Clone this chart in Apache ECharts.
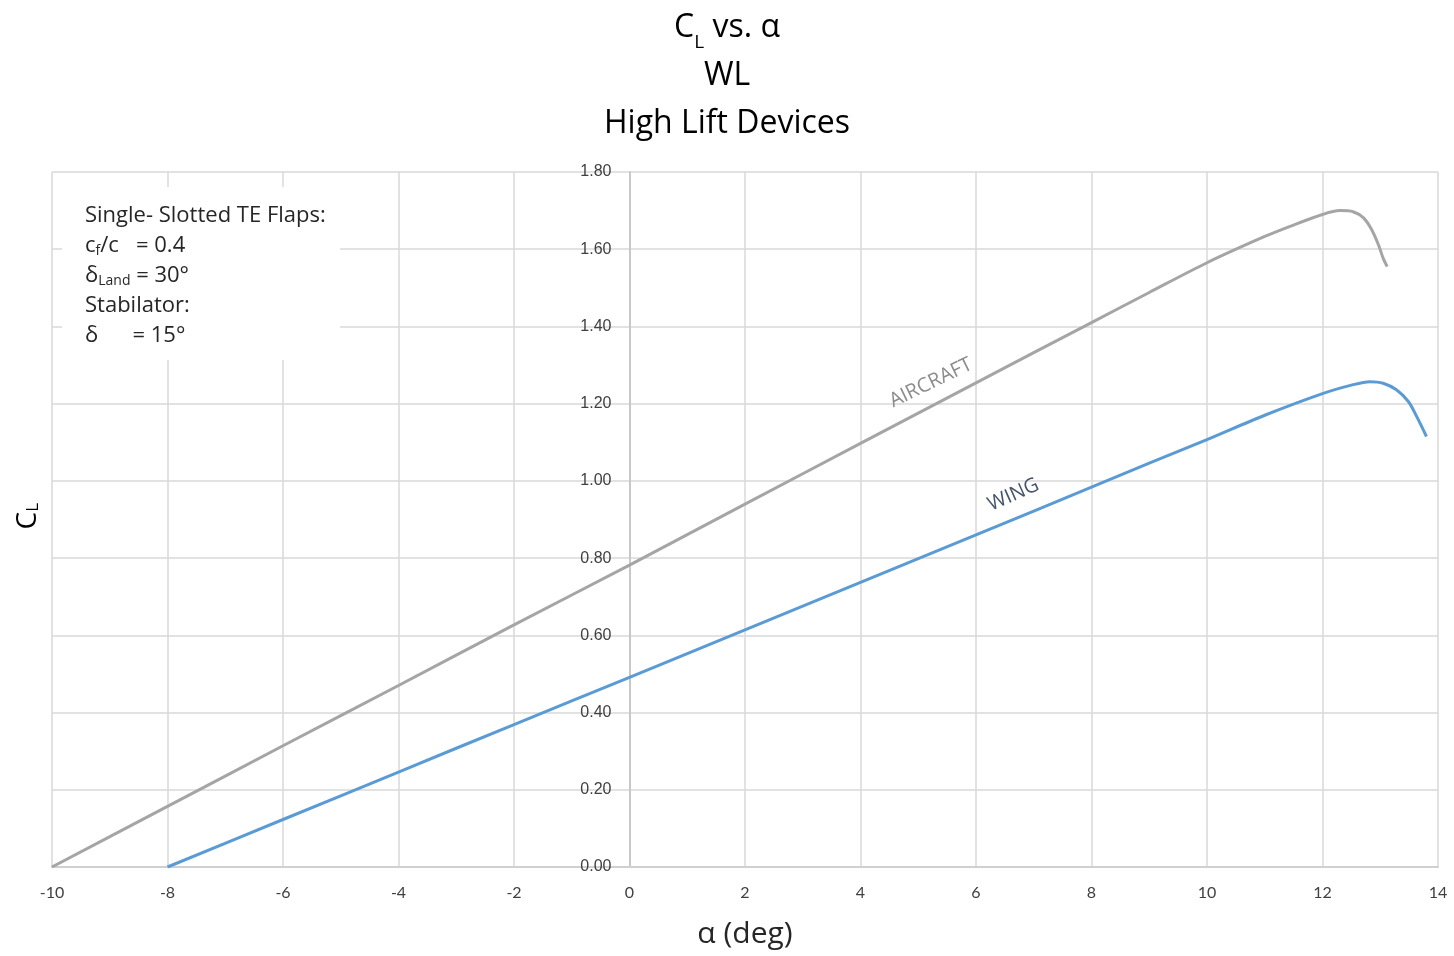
<!DOCTYPE html>
<html>
<head>
<meta charset="utf-8">
<script src="https://cdn.jsdelivr.net/npm/echarts@6/dist/echarts.min.js"></script>
<style>
  html, body { margin: 0; padding: 0; background: #fff; }
  #main { width: 1454px; height: 956px; }
</style>
</head>
<body>
<div id="main"></div>
<script>
// angle of attack (deg) / lift coefficient
const aircraftAlpha = [-10, -8, -6, -4, -2, 0, 2, 4, 6, 8, 9, 10, 11, 11.45, 12.0, 12.3, 12.53, 12.71, 12.85, 12.97, 13.05, 13.12];
const aircraftCL = [0, 0.157, 0.314, 0.47, 0.627, 0.782, 0.94, 1.097, 1.254, 1.41, 1.488, 1.565, 1.633, 1.66, 1.69, 1.7, 1.697, 1.681, 1.651, 1.611, 1.577, 1.555];
const wingAlpha = [-8, -6, -4, -2, 0, 2, 4, 6, 8, 9, 10, 11, 12, 12.5, 12.82, 13.05, 13.28, 13.49, 13.63, 13.8];
const wingCL = [0, 0.123, 0.246, 0.369, 0.491, 0.614, 0.737, 0.86, 0.984, 1.046, 1.107, 1.17, 1.226, 1.248, 1.257, 1.253, 1.236, 1.205, 1.167, 1.115];

const notes = [
  'Single- Slotted TE Flaps:',
  'c{sub|f}/c   = 0.4',
  'δ{sub|Land} = 30°',
  'Stabilator:',
  'δ      = 15°'
];

const chart = echarts.init(document.getElementById('main'));
const font = '"Open Sans", Lato, sans-serif';

function pairs(xs, ys) {
  return xs.map((x, i) => [x, ys[i]]);
}

const option = {
  backgroundColor: '#fff',
  animation: false,
  title: {
    left: 'center',
    top: -1,
    text: '{a|C}{sub|L}{a| vs. α}\n{a|WL}\n{a|High Lift Devices}',
    textStyle: {
      fontWeight: 'normal',
      rich: {
        a: {fontFamily: font, fontSize: 32, fontWeight: 'normal', color: '#000', lineHeight: 48},
        sub: {fontFamily: font, fontSize: 19, fontWeight: 'normal', color: '#000', lineHeight: 48, verticalAlign: 'bottom', padding: [14, 0, 0, 0]}
      }
    }
  },
  grid: {left: 52, right: 16, top: 172, bottom: 89},
  xAxis: {
    type: 'value',
    min: -10, max: 14, interval: 2,
    name: 'α (deg)',
    nameLocation: 'middle',
    nameGap: 52,
    nameTextStyle: {fontFamily: font, fontSize: 30, color: '#262626'},
    axisLine: {onZero: false, lineStyle: {color: '#d0d0d0', width: 2}},
    axisTick: {show: false},
    axisLabel: {fontFamily: 'Lato, sans-serif', fontSize: 16, color: '#404040', margin: 18},
    splitLine: {lineStyle: {color: '#d9d9d9', width: 1.5}}
  },
  yAxis: {
    type: 'value',
    min: 0, max: 1.8, interval: 0.2,
    // axis sits at alpha = 0 (10 of 24 units across the plot)
    offset: -1386 * 10 / 24,
    axisLine: {show: true, onZero: false, lineStyle: {color: '#c8c8c8', width: 2}},
    axisTick: {show: false},
    axisLabel: {
      fontFamily: '"Liberation Sans", Arial, sans-serif', fontSize: 16, color: '#404040', margin: 18,
      formatter: v => v.toFixed(2)
    },
    splitLine: {lineStyle: {color: '#d9d9d9', width: 1.5}}
  },
  graphic: [
    {
      type: 'text',
      left: 14, top: 503,
      rotation: Math.PI / 2,
      style: {
        text: '{a|C}{sub|L}',
        rich: {
          a: {fontFamily: font, fontSize: 28, fill: '#000'},
          sub: {fontFamily: font, fontSize: 17, fill: '#000', padding: [10, 0, 0, 0]}
        }
      }
    },
    {
      type: 'rect',
      left: 62, top: 187,
      shape: {width: 278, height: 173},
      style: {fill: '#fff'},
      z: 50
    },
    {
      type: 'text',
      left: 85, top: 201,
      z: 51,
      style: {
        text: notes.join('\n'),
        fontFamily: font, fontSize: 22, fill: '#262626', lineHeight: 30,
        rich: {
          sub: {fontFamily: font, fontSize: 14, fill: '#262626', padding: [10, 0, 0, 0], lineHeight: 30}
        }
      }
    }
  ],
  series: [
    {
      name: 'AIRCRAFT',
      type: 'line',
      data: pairs(aircraftAlpha, aircraftCL),
      smooth: 0.3,
      showSymbol: false,
      lineStyle: {color: '#a5a5a5', width: 3},
      itemStyle: {color: '#a5a5a5'},
      markPoint: {
        symbol: 'circle', symbolSize: 0,
        label: {show: true, formatter: 'AIRCRAFT', rotate: 26, fontFamily: font, fontSize: 20, color: '#8c8c8c', position: 'inside'},
        data: [{coord: [5.22, 1.254]}]
      }
    },
    {
      name: 'WING',
      type: 'line',
      data: pairs(wingAlpha, wingCL),
      smooth: 0.3,
      showSymbol: false,
      lineStyle: {color: '#5b9bd5', width: 3},
      itemStyle: {color: '#5b9bd5'},
      markPoint: {
        symbol: 'circle', symbolSize: 0,
        label: {show: true, formatter: 'WING', rotate: 24, fontFamily: font, fontSize: 20, color: '#44546a', position: 'inside'},
        data: [{coord: [6.65, 0.964]}]
      }
    }
  ]
};

chart.setOption(option);
</script>
</body>
</html>
